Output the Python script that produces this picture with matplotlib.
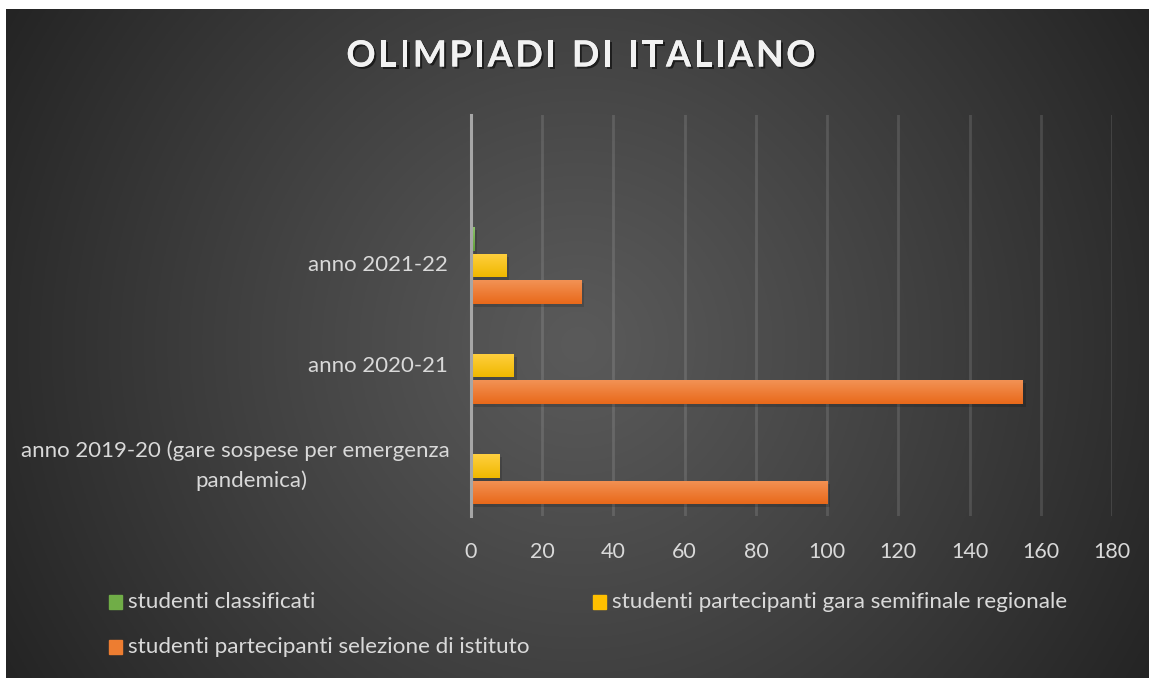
import numpy as np
import matplotlib
matplotlib.use("Agg")
import matplotlib.pyplot as plt
import matplotlib.patheffects as pe
from matplotlib.colors import LinearSegmentedColormap

categories = ["anno 2019-20 (gare sospese per emergenza\npandemica)", "anno 2020-21", "anno 2021-22", ""]
series_names = ["studenti classificati",
                "studenti partecipanti gara semifinale regionale",
                "studenti partecipanti selezione di istituto"]
classificati = [0, 0, 1, 0]
semifinale = [8, 12, 10, 0]
istituto = [100, 155, 31, 0]
xticks = [0, 20, 40, 60, 80, 100, 120, 140, 160, 180]
title = "OLIMPIADI DI ITALIANO"

colors = ["#70AD47", "#FFC000", "#ED7D31"]
grad_top = ["#8BC26A", "#FFD040", "#F29255"]
grad_bot = ["#62A03A", "#F0B800", "#E9691A"]
offsets = [0.265, 0.0, -0.265]
bar_h = 0.235
FONT = "Lato"
TXT = "#d9d9d9"
FS = 16

W, H = 1155, 678
fig = plt.figure(figsize=(W / 100, H / 100), dpi=100, facecolor="white")

# background radial gradient
bg = fig.add_axes([6 / W, 0 / H, 1143 / W, 669 / H])
bg.set_axis_off()
ny, nx = 300, 500
yy, xx = np.mgrid[0:ny, 0:nx]
cx, cy = nx * 0.50, ny * 0.50
r = np.sqrt(((xx - cx) / nx) ** 2 + ((yy - cy) / ny * (669 / 1143)) ** 2)
r = r / r.max()
c_center = np.array([0x5a, 0x5a, 0x5a]) / 255
c_edge = np.array([0x24, 0x24, 0x24]) / 255
t = np.clip(r, 0, 1) ** 1.1
img = c_center[None, None, :] * (1 - t[..., None]) + c_edge[None, None, :] * t[..., None]
bg.imshow(img, aspect="auto", extent=[0, 1, 0, 1], origin="upper")
bg.set_xlim(0, 1)
bg.set_ylim(0, 1)

ax = fig.add_axes([471 / W, 162 / H, 641 / W, 401 / H])
ax.patch.set_alpha(0)
y = np.arange(len(categories))
data = [classificati, semifinale, istituto]
grad = np.linspace(1, 0, 64).reshape(-1, 1)
for k, (vals, col, off, name) in enumerate(zip(data, colors, offsets, series_names)):
    ax.barh(y + off - 0.03, vals, height=bar_h, left=0.8, color="black", alpha=0.15,
            zorder=2, linewidth=0)
    bars = ax.barh(y + off, vals, height=bar_h, color=col, zorder=3, linewidth=0, label=name)
    cmap = LinearSegmentedColormap.from_list(f"g{k}", [grad_bot[k], grad_top[k]])
    for b in bars:
        if b.get_width() <= 0:
            continue
        x0, y0 = b.get_x(), b.get_y()
        im = ax.imshow(grad, cmap=cmap, aspect="auto", origin="upper",
                       extent=[x0, x0 + b.get_width(), y0, y0 + b.get_height()],
                       zorder=3.5, interpolation="bilinear")
        im.set_clip_path(b)

ax.set_xlim(0, 180)
ax.set_ylim(-0.5, 3.5)
ax.set_aspect("auto")
ax.set_xticks(xticks)
ax.set_yticks(y)
ax.set_yticklabels([])
ax.tick_params(axis="y", length=0)
ax.tick_params(axis="x", length=0, pad=19, labelsize=FS - 0.5, colors=TXT)
for lab in ax.get_xticklabels():
    lab.set_fontfamily(FONT)
ax.xaxis.grid(True, color="white", alpha=0.12, linewidth=2.0, zorder=0)
ax.set_axisbelow(True)
for s in ["top", "right", "bottom"]:
    ax.spines[s].set_visible(False)
ax.spines["left"].set_color("#a6a6a6")
ax.spines["left"].set_linewidth(2.2)
ax.spines["left"].set_zorder(4)

# category labels
for yi, cat in enumerate(categories):
    if not cat:
        continue
    ydisp = ax.transData.transform((0, yi))[1]
    lines = cat.split("\n")
    if len(lines) == 1:
        fig.text(448 / W, ydisp / H, cat, ha="right", va="center",
                 fontsize=FS, color=TXT, family=FONT)
    else:
        centers = [235, 251]
        n = len(lines)
        for k, line in enumerate(lines):
            yoff = (k - (n - 1) / 2) * 30
            fig.text(centers[k] / W, (ydisp - yoff) / H, line, ha="center", va="center",
                     fontsize=FS, color=TXT, family=FONT)

# title with letter spacing
fig.canvas.draw()
renderer = fig.canvas.get_renderer()
spacing = 2.6
tfs = 26
shadow = [pe.withSimplePatchShadow(offset=(1.5, -1.5), shadow_rgbFace="black", alpha=0.55), pe.Normal()]
widths = []
for ch in title:
    tt = fig.text(0, 0, ch if ch != " " else "I", fontsize=tfs, fontweight="bold", family=FONT)
    w = tt.get_window_extent(renderer).width
    widths.append(w)
    tt.remove()
total = sum(widths) + spacing * (len(title) - 1)
xcur = 581 - total / 2
for ch, w in zip(title, widths):
    if ch != " ":
        fig.text(xcur / W, 1 - 56 / H, ch, ha="left", va="center", fontsize=tfs,
                 fontweight="bold", color="#f2f2f2", family=FONT, path_effects=shadow)
    xcur += w + spacing

# legend
leg_items = [(109, 602, 0), (593, 602, 1), (109, 647, 2)]
for lx, ly, i in leg_items:
    fig.patches.append(plt.Rectangle((lx / W, 1 - (ly + 7) / H), 13 / W, 14 / H,
                                     transform=fig.transFigure, color=colors[i]))
    fig.text((lx + 19) / W, 1 - ly / H, series_names[i], ha="left", va="center",
             fontsize=FS + 0.2, color=TXT, family=FONT)

fig.savefig("out.png", dpi=100, facecolor="white")
